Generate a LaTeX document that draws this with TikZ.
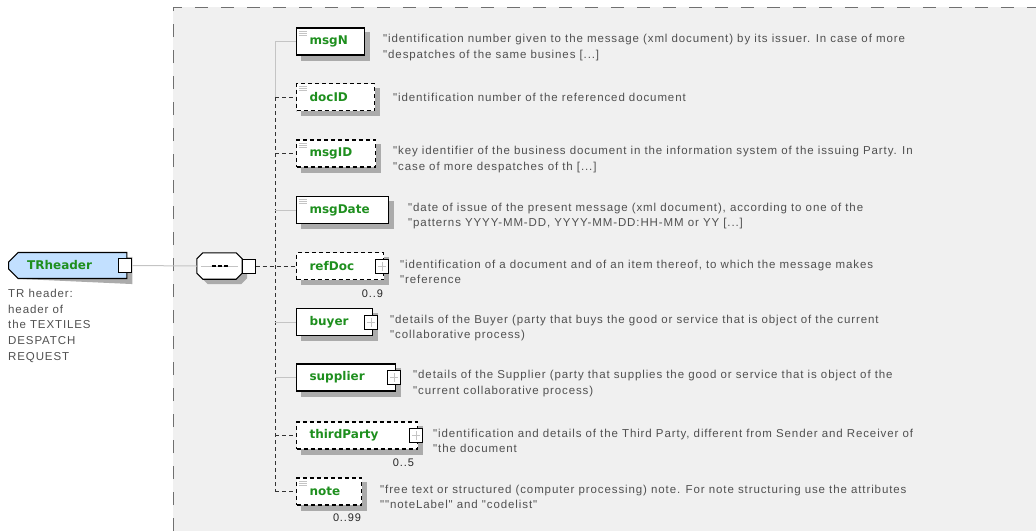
\documentclass[tikz,border=0pt]{standalone}
\usepackage{fontspec}
\usepackage{xcolor}
\usepackage{tikz}
\usetikzlibrary{shapes.misc}
\newfontfamily\descfont[LetterSpace=7.8]{Liberation Sans}
\newfontfamily\elemfont{DejaVu Sans}
\definecolor{elemgreen}{HTML}{1E8F1E}
\definecolor{panegrey}{HTML}{F0F0F0}
\definecolor{framegrey}{HTML}{707070}
\definecolor{linkgrey}{HTML}{C4C4C4}
\definecolor{shadowgrey}{HTML}{ABABAB}
\definecolor{descgrey}{HTML}{505050}
\definecolor{rootblue}{HTML}{C2E0FF}
\pgfdeclarelayer{pane}
\pgfdeclarelayer{shade}
\pgfsetlayers{pane,shade,main}
\tikzset{
  elembox/.style={draw=black, fill=white, line width=1.1pt, minimum height=27pt, anchor=west,
    inner xsep=13pt, inner ysep=0pt, text width=#1, align=left, text=elemgreen,
    font=\elemfont\bfseries\fontsize{12}{14}\selectfont},
  optbox/.style={elembox=#1, dash pattern=on 4pt off 3pt},
  rootbox/.style={chamfered rectangle, chamfered rectangle corners={north west,south west},
    chamfered rectangle xsep=5pt, chamfered rectangle ysep=5pt, draw=black, fill=rootblue,
    line width=1.1pt, minimum height=26pt, anchor=west, inner xsep=14pt, inner ysep=0pt,
    text width=#1, align=left, text=elemgreen, font=\elemfont\bfseries\fontsize{12}{14}\selectfont},
  seqbox/.style={minimum width=45pt, minimum height=26pt, inner sep=0pt},
  seqline/.style={draw=black, fill=white, line width=1.1pt},
  seqmark/.style={draw=black, line width=2pt, dash pattern=on 4pt off 2pt},
  plainsq/.style={draw=black, fill=white, line width=1pt, minimum width=13pt, minimum height=14pt, inner sep=0pt},
  plussq/.style={plainsq, path picture={
    \draw[linkgrey, line width=0.8pt]
      ([yshift=-2.5pt]path picture bounding box.north) -- ([yshift=2.5pt]path picture bounding box.south)
      ([xshift=2.5pt]path picture bounding box.west) -- ([xshift=-2.5pt]path picture bounding box.east);}},
  reqlink/.style={draw=linkgrey, line width=1pt},
  optlink/.style={draw=black!80, line width=1pt, dash pattern=on 4pt off 3pt},
  paneframe/.style={draw=framegrey, line width=1pt, dash pattern=on 13pt off 13pt},
  desc/.style={anchor=west, inner sep=0pt, align=left, text=descgrey,
    font=\descfont\fontsize{11.5}{15.5}\selectfont},
  mult/.style={anchor=north east, inner sep=0pt, text=black!85,
    font=\descfont\fontsize{11}{13}\selectfont},
}
\begin{document}
\begin{tikzpicture}[x=1pt, y=-1pt]
  \useasboundingbox (0,0) rectangle (1036,531);
  % schema pane
  \begin{pgfonlayer}{pane}
    \fill[panegrey] (173,7) rectangle (1036,531);
    \draw[paneframe] (173,531) -- (173,7) -- (1036,7);
  \end{pgfonlayer}

  % root element
  \node[rootbox=81pt] (TRheader) at (8,265.5) {TRheader};
  \node[plainsq] (TRheader-exp) at ([xshift=-2pt]TRheader.east) {};
  \node[desc, anchor=north west, font=\descfont\fontsize{11.5}{15.7}\selectfont] (TRheader-desc) at (8,289)
    {TR header:\\header of\\the TEXTILES\\DESPATCH\\REQUEST};

  % sequence
  \node[seqbox] (seq) at (219.5,266) {};
  \draw[seqline] ([shift={(6,0)}]seq.north west) -- ([shift={(-6,0)}]seq.north east)
    -- ([shift={(0,6)}]seq.north east) -- ([shift={(0,-6)}]seq.south east)
    -- ([shift={(-6,0)}]seq.south east) -- ([shift={(6,0)}]seq.south west)
    -- ([shift={(0,-6)}]seq.south west) -- ([shift={(0,6)}]seq.north west) -- cycle;
  \draw[linkgrey, line width=0.8pt] ([xshift=4pt]seq.west) -- ([xshift=-4pt]seq.east);
  \draw[seqmark] ([xshift=-8pt]seq.center) -- ([xshift=8pt]seq.center);
  \node[plainsq] (seq-exp) at ([xshift=6.5pt]seq.east) {};

  % child elements
  \node[elembox=42pt] (msgN) at (296,41.5) {msgN};
  \node[optbox=52pt] (docID) at (296,97) {docID};
  \node[optbox=53pt] (msgID) at (296,153.5) {msgID};
  \node[elembox=66pt] (msgDate) at (296,210) {msgDate};
  \node[optbox=61pt] (refDoc) at (296,266) {refDoc};
  \node[elembox=50pt] (buyer) at (296,322) {buyer};
  \node[elembox=73pt] (supplier) at (296,377.5) {supplier};
  \node[optbox=95pt] (thirdParty) at (296,435.5) {thirdParty};
  \node[optbox=39pt] (note) at (296,491.5) {note};

  % shadows
  \begin{pgfonlayer}{shade}
    \fill[shadowgrey] ([shift={(10,5)}]TRheader.north west) -- ([shift={(5,5)}]TRheader.north east)
      -- ([shift={(5,5)}]TRheader.south east) -- ([shift={(10,5)}]TRheader.south west) -- cycle;
    \fill[shadowgrey] ([shift={(11,5)}]seq.north west) -- ([shift={(-1,5)}]seq.north east)
      -- ([shift={(5,11)}]seq.north east) -- ([shift={(5,-1)}]seq.south east)
      -- ([shift={(-1,5)}]seq.south east) -- ([shift={(11,5)}]seq.south west)
      -- ([shift={(5,-1)}]seq.south west) -- ([shift={(5,11)}]seq.north west) -- cycle;
    \foreach \e in {msgN,docID,msgID,msgDate,refDoc,buyer,supplier,thirdParty,note}
      \fill[shadowgrey] ([shift={(5,5)}]\e.north west) rectangle ([shift={(5,5)}]\e.south east);
  \end{pgfonlayer}

  % simple type marks
  \foreach \e in {msgN,docID,msgID,msgDate,note}
    \foreach \dy in {3.5,5.5,7.5}
      \draw[linkgrey, line width=0.7pt] ([shift={(2.5,\dy)}]\e.north west) -- ++(8,0);

  % expand boxes
  \foreach \e in {refDoc,buyer,supplier,thirdParty}
    \node[plussq] (\e-exp) at ([xshift=-2pt]\e.east) {};

  % multiplicities
  \node[mult] (refDoc-mult) at ([xshift=-1pt,yshift=-10pt]refDoc.south east) {0..9};
  \node[mult] (thirdParty-mult) at ([xshift=-4pt,yshift=-9pt]thirdParty.south east) {0..5};
  \node[mult] (note-mult) at ([xshift=-1pt,yshift=-8pt]note.south east) {0..99};

  % connectors
  \coordinate (trunk) at (275,0);
  \draw[reqlink] (TRheader-exp.east) -- (seq.west);
  \draw[optlink] (seq-exp.east) -- (refDoc.west);
  \draw[reqlink] (trunk |- msgN.west) -- (trunk |- docID.west);
  \draw[optlink] (trunk |- docID.west) -- (trunk |- note.west);
  \foreach \e in {msgN,msgDate,buyer,supplier}
    \draw[reqlink] (trunk |- \e.west) -- (\e.west);
  \foreach \e in {docID,msgID,thirdParty,note}
    \draw[optlink] (trunk |- \e.west) -- (\e.west);

  % annotations
  \node[desc] (msgN-desc) at (383,47.5)
    {"identification number given to the message (xml document) by its issuer. In case of more\\"despatches of the same busines [...]};
  \node[desc] (docID-desc) at (393,97)
    {"identification number of the referenced document};
  \node[desc] (msgID-desc) at (393,159.5)
    {"key identifier of the business document in the information system of the issuing Party. In\\"case of more despatches of th [...]};
  \node[desc] (msgDate-desc) at (408,216)
    {"date of issue of the present message (xml document), according to one of the\\"patterns YYYY-MM-DD, YYYY-MM-DD:HH-MM or YY [...]};
  \node[desc] (refDoc-desc) at (400,272)
    {"identification of a document and of an item thereof, to which the message makes\\"reference};
  \node[desc] (buyer-desc) at (390,328)
    {"details of the Buyer (party that buys the good or service that is object of the current\\"collaborative process)};
  \node[desc] (supplier-desc) at (413,383.5)
    {"details of the Supplier (party that supplies the good or service that is object of the\\"current collaborative process)};
  \node[desc] (thirdParty-desc) at (433,441)
    {"identification and details of the Third Party, different from Sender and Receiver of\\"the document};
  \node[desc] (note-desc) at (380,497)
    {"free text or structured (computer processing) note. For note structuring use the attributes\\""noteLabel" and "codelist"};
\end{tikzpicture}
\end{document}
